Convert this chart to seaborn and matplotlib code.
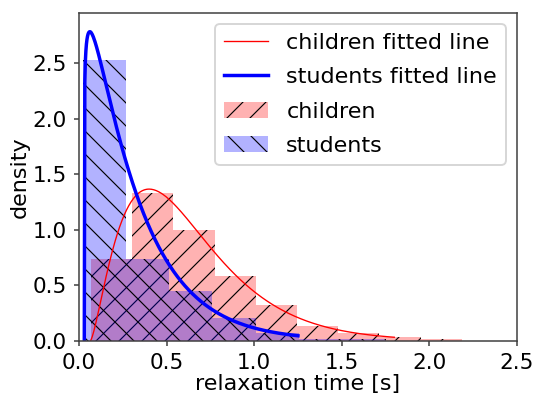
import math
import numpy as np
import pandas as pd
import matplotlib
matplotlib.use("Agg")
import matplotlib.pyplot as plt
import seaborn as sns

# Histogram bin edges and densities for each group
children_edges = [0.068, 0.303, 0.539, 0.774, 1.009, 1.245, 1.480, 1.715, 1.951, 2.186]
children_density = [0.74, 1.33, 1.00, 0.587, 0.32, 0.135, 0.072, 0.036, 0.015]
students_edges = [0.021, 0.268, 0.515, 0.762, 1.009, 1.256, 1.503, 1.750]
students_density = [2.53, 0.74, 0.45, 0.21, 0.07, 0.015, 0.015]

# Fitted gamma distributions: (loc, shape a, scale) and the range each line covers
children_fit = (0.064, 2.479, 0.2272)
children_fit_range = (0.067, 1.80)
students_fit = (0.030, 1.121, 0.2615)
students_fit_range = (0.030, 1.25)

x_ticks = [0.0, 0.5, 1.0, 1.5, 2.0, 2.5]
y_ticks = [0.0, 0.5, 1.0, 1.5, 2.0, 2.5]


def gamma_pdf(x, loc, a, scale):
    u = np.clip(np.asarray(x, float) - loc, 1e-12, None)
    logp = (a - 1) * np.log(u) - u / scale - math.lgamma(a) - a * math.log(scale)
    return np.where(np.asarray(x) > loc, np.exp(logp), 0.0)


DPI = 138
plt.rcParams.update({
    "font.family": ["DejaVu Sans"],
    "font.size": 11.6,
    "xtick.labelsize": 11.2,
    "ytick.labelsize": 11.2,
    "axes.edgecolor": "0.25",
    "axes.linewidth": 0.8,
    "xtick.major.size": 2.8,
    "ytick.major.size": 2.8,
    "xtick.color": "0.25",
    "ytick.color": "0.25",
    "xtick.labelcolor": "black",
    "ytick.labelcolor": "black",
    "hatch.linewidth": 0.6,
})

fig = plt.figure(figsize=(534 / DPI, 395 / DPI), dpi=DPI)
ax = fig.add_axes([0.148, 0.137, 0.820, 0.830])


def bin_centers(edges):
    e = np.asarray(edges)
    return (e[:-1] + e[1:]) / 2


children_df = pd.DataFrame({"t": bin_centers(children_edges), "w": children_density})
students_df = pd.DataFrame({"t": bin_centers(students_edges), "w": students_density})

sns.histplot(data=children_df, x="t", weights="w", bins=children_edges, stat="count",
             color="red", alpha=0.3, hatch="//", edgecolor="black", linewidth=0,
             label="children", ax=ax)
sns.histplot(data=students_df, x="t", weights="w", bins=students_edges, stat="count",
             color="blue", alpha=0.3, hatch="\\\\", edgecolor="black", linewidth=0,
             label="students", ax=ax)

xc = np.linspace(*children_fit_range, 400)
xs = np.linspace(*students_fit_range, 400)
sns.lineplot(x=xc, y=gamma_pdf(xc, *children_fit), color="red", linewidth=0.7,
             label="children fitted line", ax=ax)
sns.lineplot(x=xs, y=gamma_pdf(xs, *students_fit), color="blue", linewidth=1.8,
             label="students fitted line", ax=ax)

ax.set_xlim(0, 2.5)
ax.set_ylim(0, 2.95)
ax.set_xticks(x_ticks)
ax.set_yticks(y_ticks)
ax.set_xlabel("relaxation time [s]", labelpad=0.5)
ax.set_ylabel("density", labelpad=1.5)

handles, labels = ax.get_legend_handles_labels()
order = ["children fitted line", "students fitted line", "children", "students"]
lookup = dict(zip(labels, handles))
ax.legend([lookup[k] for k in order], order, loc="upper right", labelspacing=0.64)

fig.savefig("out.png", dpi=DPI)
